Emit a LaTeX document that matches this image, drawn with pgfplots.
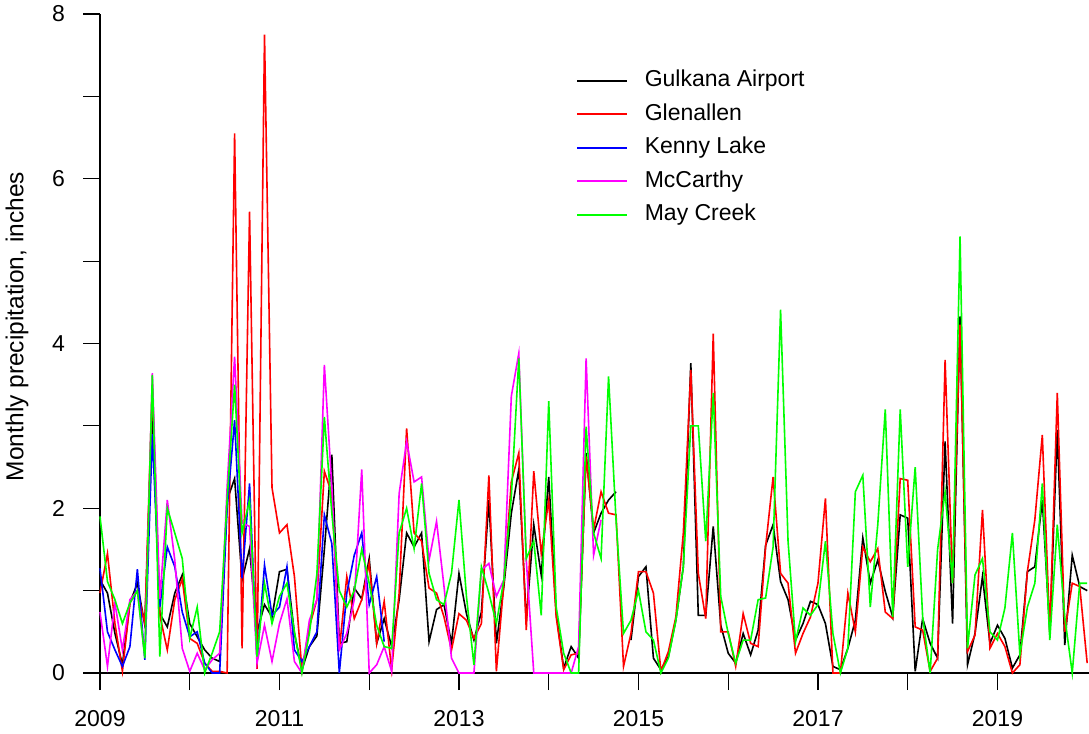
\documentclass[border=0pt]{standalone}
\usepackage{fontspec}
\setmainfont{Liberation Sans}
\usepackage{pgfplots}
\usepackage{pgfplotstable}
\pgfplotsset{compat=1.18}

\definecolor{rmag}{RGB}{255,0,255}
\definecolor{rgreen}{RGB}{0,255,0}
\definecolor{rred}{RGB}{255,0,0}
\definecolor{rblue}{RGB}{0,0,255}

% monthly precipitation, inches; i = months since Jan 2009
\pgfplotstableread{
i G R B M C
0 1.13 0.97 1.27 0.74 1.90
1 0.97 1.45 0.50 0.08 1.11
2 0.48 0.60 0.28 0.85 0.89
3 0.10 0.02 0.08 0.28 0.60
4 0.85 0.85 0.32 0.89 0.85
5 1.09 1.00 1.26 1.00 1.00
6 0.58 0.60 0.16 0.20 0.18
7 3.20 3.50 2.90 3.64 3.62
8 0.72 0.70 0.80 0.90 0.20
9 0.56 0.28 1.53 2.10 2.00
10 0.97 0.89 1.29 1.37 1.70
11 1.19 1.14 0.74 0.30 1.39
12 0.60 0.42 0.44 0.02 0.42
13 0.44 0.36 0.50 0.24 0.80
14 0.28 0.12 0.12 0.04 0.00
15 0.18 0.02 0.00 0.16 0.24
16 0.14 0.02 0.00 0.24 0.50
17 2.10 0.00 2.00 2.26 2.10
18 2.36 6.55 3.07 3.84 3.50
19 1.13 0.30 1.15 1.82 1.70
20 1.51 5.60 2.30 1.78 2.10
21 0.50 0.05 0.15 0.12 0.20
22 0.83 7.75 1.31 0.58 1.09
23 0.68 2.25 0.70 0.14 0.60
24 1.23 1.70 0.80 0.60 0.93
25 1.26 1.80 1.29 0.90 1.09
26 0.48 1.17 0.28 0.14 0.50
27 0.04 0.04 0.14 0.00 0.00
28 0.32 0.56 0.32 0.64 0.48
29 0.45 0.89 0.50 0.89 1.20
30 1.50 2.45 1.92 3.74 3.11
31 2.65 2.18 1.57 2.26 1.94
32 0.36 0.28 0.00 0.28 1.00
33 0.38 1.17 0.97 0.48 0.80
34 1.03 0.66 1.43 0.89 1.00
35 0.90 0.89 1.70 2.47 1.50
36 1.39 1.33 0.83 0.00 1.09
37 0.36 0.36 1.17 0.10 0.58
38 0.66 0.87 0.38 0.32 0.32
39 0.32 0.04 nan 0.02 0.30
40 0.89 0.97 nan 2.18 1.70
41 1.70 2.97 nan 2.81 2.00
42 1.53 1.70 nan 2.32 1.51
43 1.70 1.60 nan 2.38 2.30
44 0.38 1.03 nan 1.37 1.21
45 0.77 0.97 nan 1.84 0.89
46 0.83 0.68 nan 1.05 0.83
47 0.36 0.28 nan 0.18 1.21
48 1.21 0.72 nan 0.00 2.10
49 0.72 0.64 nan 0.00 0.93
50 0.40 0.42 nan 0.00 0.10
51 0.74 0.60 nan 1.25 1.29
52 2.10 2.40 nan 1.33 0.97
53 0.36 0.02 nan 0.93 0.60
54 1.05 1.09 nan 1.13 1.13
55 1.94 2.32 nan 3.36 2.14
56 2.47 2.67 nan 3.88 3.82
57 0.64 0.52 nan 1.37 1.39
58 1.80 2.45 nan 0.00 1.60
59 1.19 1.45 nan 0.00 0.70
60 2.38 2.10 nan 0.00 3.30
61 0.72 0.68 nan 0.00 0.80
62 0.06 0.04 nan 0.00 0.24
63 0.32 0.22 nan 0.00 0.00
64 0.18 0.24 nan 0.32 0.00
65 2.67 2.63 nan 3.82 2.99
66 1.70 1.74 nan 1.43 1.70
67 1.94 2.20 nan 1.86 1.39
68 2.10 1.94 nan nan 3.60
69 2.20 1.92 nan nan 1.86
70 nan 0.08 nan nan 0.48
71 0.40 0.48 nan nan 0.64
72 1.17 1.23 nan nan 1.00
73 1.29 1.23 nan nan 0.50
74 0.18 0.97 nan nan 0.40
75 0.04 0.02 nan nan 0.00
76 0.20 0.26 nan nan 0.18
77 0.64 0.68 nan nan 0.64
78 1.29 1.70 nan nan 1.29
79 3.76 3.68 nan nan 3.00
80 0.70 1.21 nan nan 3.00
81 0.70 0.66 nan nan 1.60
82 1.78 4.12 nan nan 3.40
83 0.58 0.50 nan nan 0.93
84 0.24 0.50 nan nan 0.48
85 0.12 0.08 nan nan 0.12
86 0.48 0.72 nan nan 0.40
87 0.22 0.36 nan nan 0.40
88 0.52 0.32 nan nan 0.89
89 1.55 1.53 nan nan 0.91
90 1.80 2.38 nan nan 1.53
91 1.11 1.21 nan nan 4.41
92 0.89 1.09 nan nan 1.60
93 0.40 0.24 nan nan 0.38
94 0.60 0.48 nan nan 0.79
95 0.87 0.68 nan nan 0.70
96 0.83 1.09 nan nan 0.83
97 0.60 2.12 nan nan 1.60
98 0.08 0.00 nan nan 0.48
99 0.04 0.00 nan nan 0.00
100 0.30 0.97 nan nan 0.30
101 0.64 0.50 nan nan 2.20
102 1.64 1.53 nan nan 2.40
103 1.09 1.35 nan nan 0.80
104 1.37 1.51 nan nan 1.80
105 0.99 0.74 nan nan 3.20
106 0.68 0.66 nan nan 0.68
107 1.92 2.36 nan nan 3.20
108 1.88 2.34 nan nan 1.29
109 0.02 0.56 nan nan 2.50
110 0.66 0.52 nan nan 0.68
111 0.36 0.02 nan nan 0.00
112 0.18 0.18 nan nan 1.50
113 2.81 3.80 nan nan 2.20
114 0.60 1.09 nan nan 1.09
115 4.33 4.23 nan nan 5.30
116 0.10 0.26 nan nan 0.30
117 0.48 0.46 nan nan 1.19
118 1.17 1.98 nan nan 1.39
119 0.36 0.30 nan nan 0.50
120 0.58 0.48 nan nan 0.40
121 0.42 0.32 nan nan 0.79
122 0.06 0.00 nan nan 1.70
123 0.22 0.10 nan nan 0.22
124 1.23 1.23 nan nan 0.80
125 1.29 1.86 nan nan 1.09
126 2.10 2.89 nan nan 2.30
127 0.50 0.50 nan nan 0.40
128 2.95 3.40 nan nan 1.80
129 0.34 0.50 nan nan 0.68
130 1.43 1.09 nan nan 0.00
131 1.05 1.05 nan nan 1.09
132 1.00 0.12 nan nan 1.09
}\precip

\newcommand\lblfont{\fontsize{23bp}{27bp}\selectfont}

\begin{document}
\begin{tikzpicture}
\path[use as bounding box] (-100bp,-61bp) rectangle (989bp,673bp);
\begin{axis}[
  at={(0,0)}, anchor=south west,
  scale only axis, width=989bp, height=659bp,
  xmin=2009, xmax=2020.02, ymin=0, ymax=8,
  clip=false,
  axis x line*=bottom, axis y line*=left,
  axis line style={line width=1.2bp},
  tick align=outside, major tick length=17bp,
  tick style={line width=1.2bp, black},
  xtick={2009,2010,2011,2012,2013,2014,2015,2016,2017,2018,2019},
  xticklabels={2009,,2011,,2013,,2015,,2017,,2019},
  ytick={0,1,2,3,4,5,6,7,8},
  yticklabels={0,,2,,4,,6,,8},
  /pgf/number format/assume math mode=true,
  tick label style={font=\lblfont},
  xticklabel style={anchor=north, inner sep=0pt, yshift=-20bp},
  yticklabel style={anchor=east, inner sep=0pt, xshift=-18bp},
  ylabel={Monthly precipitation, inches},
  every axis y label/.style={at={(axis description cs:0,0.5)}, xshift=-83bp, yshift=17bp,
    rotate=90, anchor=center, font=\fontsize{24.5bp}{28bp}\selectfont},
  legend image code/.code={\draw[#1] (0bp,0bp) -- (50bp,0bp);},
  legend cell align=left,
  legend style={draw=none, fill=none, at={(0.4813,0.9150)}, anchor=north west,
    inner sep=0pt, row sep=12.5bp, font=\fontsize{23bp}{27bp}\selectfont,
    nodes={inner sep=0pt, text height=16.5bp, text depth=4.5bp},
    /tikz/every odd column/.append style={column sep=17bp}},
  every axis plot/.append style={line width=1.6bp},
]
\addplot[black, unbounded coords=jump] table[x expr=2009+\thisrow{i}/12, y=G] {\precip};
\addplot[rred] table[x expr=2009+\thisrow{i}/12, y=R] {\precip};
\addplot[rblue] table[x expr=2009+\thisrow{i}/12, y=B] {\precip};
\addplot[rmag] table[x expr=2009+\thisrow{i}/12, y=M] {\precip};
\addplot[rgreen] table[x expr=2009+\thisrow{i}/12, y=C] {\precip};
\legend{Gulkana Airport, Glenallen, Kenny Lake, McCarthy, May Creek}
\end{axis}
\end{tikzpicture}
\end{document}
